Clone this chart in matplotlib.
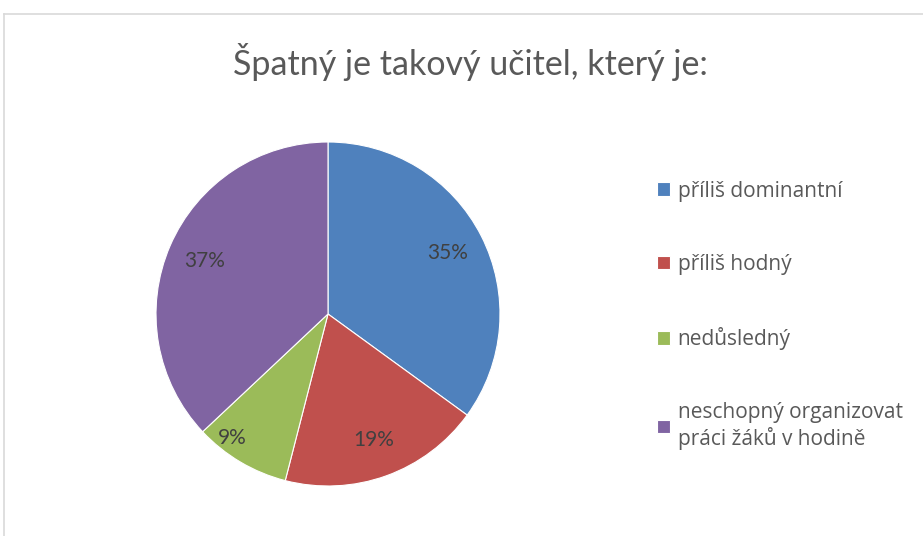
import numpy as np
import matplotlib.pyplot as plt
from matplotlib.lines import Line2D

plt.rcParams['font.family'] = ['Open Sans', 'DejaVu Sans']

labels = ['příliš dominantní', 'příliš hodný', 'nedůsledný',
          'neschopný organizovat\npráci žáků v hodině']
values = [35, 19, 9, 37]
colors = ['#4F81BD', '#C0504D', '#9BBB59', '#8064A2']

fig = plt.figure(figsize=(9.23, 5.36), dpi=100)
W, H = 923, 536

# pie centre ~ (328, 314) px, radius ~172 px
r = 172
ax = fig.add_axes([(328 - r) / W, 1 - (314 + r) / H, 2 * r / W, 2 * r / H])
wedges, texts, autotexts = ax.pie(values, colors=colors, startangle=90,
                                  counterclock=False, autopct='%1.0f%%',
                                  pctdistance=0.78, radius=1.0,
                                  wedgeprops=dict(linewidth=0.8, edgecolor='white'),
                                  textprops=dict(color='#404040', fontsize=15,
                                                 family=['Lato', 'DejaVu Sans']))
ax.set_xlim(-1, 1)
ax.set_ylim(-1, 1)
ax.set_aspect('equal')
# small slice label sits further out (best-fit placement)
w = wedges[2]
ang = np.deg2rad((w.theta1 + w.theta2) / 2 - 7)
autotexts[2].set_position((0.91 * np.cos(ang), 0.91 * np.sin(ang)))

fig.text(470 / W, 1 - 62 / H, 'Špatný je takový učitel, který je:',
         ha='center', va='center', fontsize=24.5, color='#595959',
         family=['Lato', 'DejaVu Sans'])

leg = fig.legend(wedges, labels, loc='upper left',
                 bbox_to_anchor=(638 / W, 1 - 162 / H), frameon=False,
                 fontsize=15, labelcolor='#595959', handlelength=0.65,
                 handleheight=0.65, handletextpad=0.35, labelspacing=2.5)

# chart border
fig.add_artist(Line2D([4 / W, 4 / W], [0, 1 - 14 / H], transform=fig.transFigure,
                      color='#D9D9D9', lw=1.2))
fig.add_artist(Line2D([4 / W, 1], [1 - 14 / H, 1 - 14 / H], transform=fig.transFigure,
                      color='#D9D9D9', lw=1.2))

plt.savefig('out.png', dpi=100)
